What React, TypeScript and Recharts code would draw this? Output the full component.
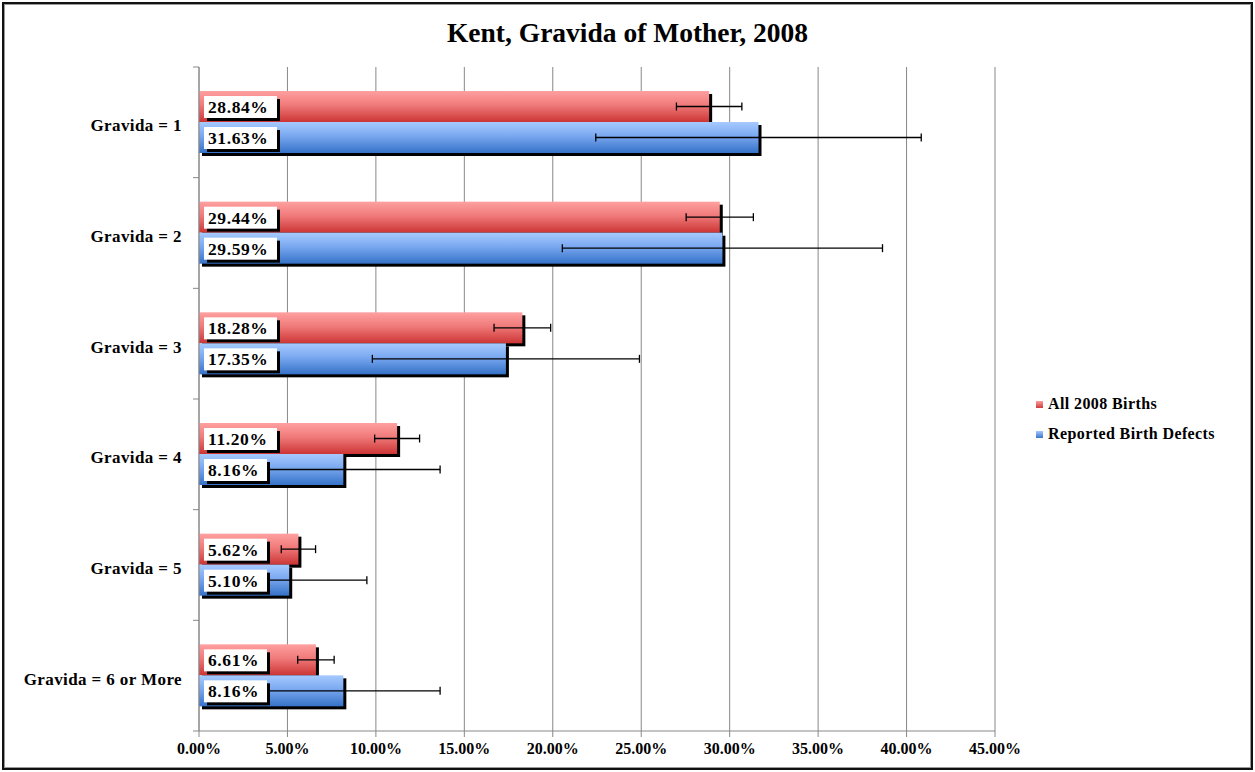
import React from "react";
import {
  BarChart, Bar, XAxis, YAxis, CartesianGrid, ErrorBar, LabelList,
} from "recharts";

const categories = [
  "Gravida = 1", "Gravida = 2", "Gravida = 3",
  "Gravida = 4", "Gravida = 5", "Gravida = 6 or More",
];
const allBirths = [28.84, 29.44, 18.28, 11.2, 5.62, 6.61];
const allBirthsErr = [1.85, 1.9, 1.6, 1.27, 0.97, 1.03];
const birthDefects = [31.63, 29.59, 17.35, 8.16, 5.1, 8.16];
const birthDefectsErr = [9.2, 9.05, 7.55, 5.47, 4.39, 5.47];
const xTicks = [0, 5, 10, 15, 20, 25, 30, 35, 40, 45];

const W = 1255;
const H = 772;
const X_AXIS_H = 30;
const M = { top: 67, right: 260, bottom: 41 - X_AXIS_H, left: 0 };
const FONT = "'Liberation Serif', 'Times New Roman', serif";

const data = categories.map((name, i) => ({
  name,
  all: allBirths[i],
  allErr: allBirthsErr[i],
  defects: birthDefects[i],
  defectsErr: birthDefectsErr[i],
}));

const band = (H - 67 - 41) / categories.length;

function ShadowBar(props: any) {
  const { x, y, width, height, gradId } = props;
  if (!width || width <= 0) return null;
  return (
    <g>
      <rect x={x + 3} y={y + 3} width={width} height={height} fill="#000" />
      <rect x={x} y={y} width={width} height={height} fill={`url(#${gradId})`} />
    </g>
  );
}

function ValueBox(props: any) {
  const { x, y, value } = props;
  const txt = `${Number(value).toFixed(2)}%`;
  const w = txt.length > 5 ? 73 : 63;
  return (
    <g>
      <rect x={x + 8} y={y + 8} width={w} height={22} fill="#000" />
      <rect x={x + 5} y={y + 5} width={w} height={22} fill="#fff" />
      <text
        x={x + 9} y={y + 22}
        fontFamily={FONT} fontWeight="bold" fontSize={17.5} fill="#000"
        letterSpacing={0.6}
      >
        {txt}
      </text>
    </g>
  );
}

function YTick(props: any) {
  const { y, payload, index } = props;
  const axisX = 199;
  return (
    <g>
      <line x1={axisX - 6} x2={axisX} y1={y - band / 2} y2={y - band / 2} stroke="#888" />
      {index === categories.length - 1 && (
        <line x1={axisX - 6} x2={axisX} y1={y + band / 2} y2={y + band / 2} stroke="#888" />
      )}
      <text
        x={axisX - 17} y={y + 3} dy="0.35em" textAnchor="end"
        fontFamily={FONT} fontWeight="bold" fontSize={17} fill="#000"
        letterSpacing={0.4}
      >
        {payload.value}
      </text>
    </g>
  );
}

function LegendBox() {
  const items = [
    { label: "All 2008 Births", top: "#ff9c9c", bottom: "#cf3c3c" },
    { label: "Reported Birth Defects", top: "#a3c8ff", bottom: "#3a76cc" },
  ];
  return (
    <div
      style={{
        position: "absolute", left: 1036, top: 389,
        fontFamily: FONT, fontWeight: "bold", fontSize: 16, color: "#000",
        letterSpacing: 0.4, whiteSpace: "nowrap",
      }}
    >
      {items.map((it) => (
        <div key={it.label} style={{ display: "flex", alignItems: "center", height: 30 }}>
          <span
            style={{
              display: "inline-block", width: 7, height: 7, marginRight: 5,
              background: `linear-gradient(${it.top}, ${it.bottom})`,
            }}
          />
          <span>{it.label}</span>
        </div>
      ))}
    </div>
  );
}

export default function App() {
  return (
    <div
      style={{
        position: "absolute", left: 0, top: 0, width: W, height: H,
        background: "#fff", boxSizing: "border-box",
      }}
    >
      <div
        style={{
          position: "absolute", left: 2, top: 2, right: 2, bottom: 2,
          border: "2px solid #111", boxShadow: "inset 0 0 0 1px #999",
        }}
      />
      <div
        style={{
          position: "absolute", left: 0, width: W, top: 17, textAlign: "center",
          fontFamily: FONT, fontWeight: "bold", fontSize: 27.5, color: "#000",
        }}
      >
        Kent, Gravida of Mother, 2008
      </div>
      <LegendBox />
      <div style={{ position: "absolute", left: 0, top: 0 }}>
        <BarChart
          width={W}
          height={H}
          data={data}
          layout="vertical"
          margin={M}
          barSize={31}
          barGap={0}
        >
          <defs>
            <linearGradient id="gRed" x1="0" y1="0" x2="0" y2="1">
              <stop offset="0%" stopColor="#ffa0a0" />
              <stop offset="45%" stopColor="#f07a7a" />
              <stop offset="100%" stopColor="#cc3535" />
            </linearGradient>
            <linearGradient id="gBlue" x1="0" y1="0" x2="0" y2="1">
              <stop offset="0%" stopColor="#a6caff" />
              <stop offset="45%" stopColor="#7aa8f0" />
              <stop offset="100%" stopColor="#3572c8" />
            </linearGradient>
          </defs>
          <CartesianGrid horizontal={false} stroke="#888" strokeWidth={1} />
          <XAxis
            type="number"
            domain={[0, 45]}
            ticks={xTicks}
            interval={0}
            height={X_AXIS_H}
            tickFormatter={(v) => `${Number(v).toFixed(2)}%`}
            tick={{ fill: "#000", fontSize: 16, fontWeight: "bold", fontFamily: FONT }}
            stroke="#888"
            tickSize={6}
            tickMargin={6}
          />
          <YAxis
            type="category"
            dataKey="name"
            width={199}
            stroke="#888"
            tickLine={false}
            tick={<YTick />}
            interval={0}
          />
          <Bar
            dataKey="all"
            isAnimationActive={false}
            shape={(p: any) => <ShadowBar {...p} gradId="gRed" />}
          >
            <ErrorBar dataKey="allErr" direction="x" width={4} stroke="#000" strokeWidth={1.3} isAnimationActive={false} />
            <LabelList dataKey="all" content={<ValueBox />} />
          </Bar>
          <Bar
            dataKey="defects"
            isAnimationActive={false}
            shape={(p: any) => <ShadowBar {...p} gradId="gBlue" />}
          >
            <ErrorBar dataKey="defectsErr" direction="x" width={4} stroke="#000" strokeWidth={1.3} isAnimationActive={false} />
            <LabelList dataKey="defects" content={<ValueBox />} />
          </Bar>
        </BarChart>
      </div>
    </div>
  );
}
